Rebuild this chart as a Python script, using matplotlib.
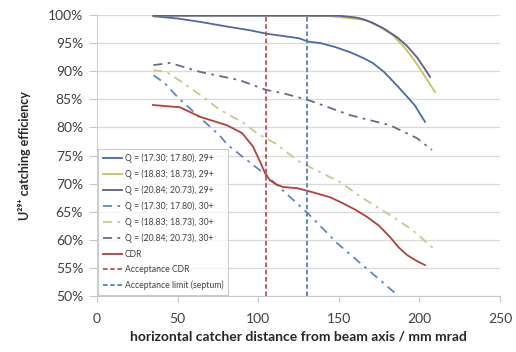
import matplotlib
matplotlib.use("Agg")
import matplotlib.pyplot as plt
from matplotlib.ticker import FuncFormatter, MultipleLocator

plt.rcParams['font.family'] = ['Lato', 'DejaVu Sans']

# Catching efficiency (%) versus horizontal catcher distance (mm mrad)
x_q1_29 = [35, 50, 64, 80, 95, 105, 115, 125, 131, 139, 148, 157, 165, 171, 178, 186, 192, 197, 203.5]
y_q1_29 = [99.8, 99.4, 98.8, 98.0, 97.3, 96.7, 96.3, 95.9, 95.3, 95.0, 94.3, 93.4, 92.4, 91.5, 89.9, 87.5, 85.6, 84.0, 81.0]

x_q2_29 = [35, 80, 130, 145, 155, 162, 167.5, 175, 183.6, 190, 196, 203, 209.7]
y_q2_29 = [99.9, 99.9, 99.9, 99.8, 99.5, 99.3, 99.0, 98.0, 96.4, 94.5, 92.3, 89.3, 86.3]

x_q3_29 = [35, 80, 130, 150, 160, 165, 171.2, 178, 186, 192, 198.5, 203, 206.6]
y_q3_29 = [99.9, 99.9, 99.9, 99.9, 99.6, 99.3, 98.6, 97.6, 96.1, 94.6, 92.5, 90.6, 89.0]

x_q1_30 = [35, 42, 50, 76, 81, 105, 130.5, 149, 185]
y_q1_30 = [89.3, 87.9, 85.4, 78.6, 76.9, 71.5, 64.8, 59.4, 50.5]

x_q2_30 = [35, 43, 51, 59, 67, 74, 82, 90, 99, 110.4, 126, 150.7, 165, 181.8, 196, 209.7]
y_q2_30 = [90.2, 89.9, 88.4, 86.8, 85.2, 83.6, 82.2, 81.0, 79.0, 77.2, 73.8, 70.3, 67.4, 64.4, 61.7, 58.2]

x_q3_30 = [35, 45.3, 63.9, 88.7, 104.8, 115.4, 130.9, 157, 181.8, 198.5, 207.8]
y_q3_30 = [91.1, 91.5, 89.9, 88.4, 86.7, 86.1, 84.9, 82.2, 80.4, 78.1, 76.0]

x_cdr = [34.7, 51.5, 63.9, 80.6, 90, 96.8, 101, 104.2, 107.3, 111, 115.4, 124.1, 130.9, 144.5, 152.6, 160, 167.5, 175, 181.8, 187, 192.3, 198, 203.5]
y_cdr = [84.0, 83.6, 81.9, 80.4, 79.0, 76.6, 74.0, 71.9, 70.6, 69.9, 69.4, 69.2, 68.7, 67.6, 66.5, 65.4, 64.1, 62.5, 60.5, 58.7, 57.3, 56.3, 55.5]

acceptance_cdr = 105
acceptance_septum = 130

labels = [
    "Q = (17.30; 17.80), 29+",
    "Q = (18.83; 18.73), 29+",
    "Q = (20.84; 20.73), 29+",
    "Q = (17.30; 17.80), 30+",
    "Q = (18.83; 18.73), 30+",
    "Q = (20.84; 20.73), 30+",
    "CDR",
    "Acceptance CDR",
    "Acceptance limit (septum)",
]

fig = plt.figure(figsize=(5.16, 3.52), dpi=100)
ax = fig.add_axes([0.188, 0.159, 0.781, 0.798])

dashdot = (0, (5, 3, 1.5, 3))
lw = 1.3
ax.plot(x_q1_29, y_q1_29, color="#4a6aa8", lw=lw, label=labels[0])
ax.plot(x_q2_29, y_q2_29, color="#c6c25a", lw=lw, label=labels[1])
ax.plot(x_q3_29, y_q3_29, color="#5d5b95", lw=lw, label=labels[2])
ax.plot(x_q1_30, y_q1_30, color="#6486bb", lw=lw, ls=dashdot, label=labels[3])
ax.plot(x_q2_30, y_q2_30, color="#c8c889", lw=lw, ls=dashdot, label=labels[4])
ax.plot(x_q3_30, y_q3_30, color="#6a6a88", lw=lw, ls=dashdot, label=labels[5])
ax.plot(x_cdr, y_cdr, color="#b2403e", lw=lw, label=labels[6])
ax.axvline(acceptance_cdr, color="#c0504d", lw=1.3, ls=(0, (2.5, 1.5)), label=labels[7])
ax.axvline(acceptance_septum, color="#4f7fbd", lw=1.3, ls=(0, (2.5, 1.5)), label=labels[8])

ax.set_xlim(0, 250)
ax.set_ylim(50, 100)
ax.xaxis.set_major_locator(MultipleLocator(50))
ax.yaxis.set_major_locator(MultipleLocator(5))
ax.yaxis.set_major_formatter(FuncFormatter(lambda v, p: f"{v:.0f}%"))
ax.grid(axis="y", color="#d9d9d9", lw=0.9)
ax.set_axisbelow(True)
for side in ("top", "right"):
    ax.spines[side].set_visible(False)
ax.spines["left"].set_color("#d0d0d0")
ax.spines["bottom"].set_color("#c8c8c8")
ax.tick_params(axis="both", colors="#c8c8c8", labelcolor="#404040", labelsize=10)
ax.tick_params(axis="y", length=6, pad=4)
ax.tick_params(axis="x", length=4, pad=8)

ax.set_xlabel("horizontal catcher distance from beam axis / mm mrad",
              fontsize=10, fontweight="bold", color="#262626", labelpad=4)
ax.set_ylabel("U²⁹⁺ catching efficiency", fontsize=9, fontweight="bold",
              color="#262626", labelpad=12)

leg = ax.legend(loc="lower left", bbox_to_anchor=(0.0, 0.0), fontsize=6.2,
                frameon=True, fancybox=False, handlelength=2.2, handletextpad=0.3,
                labelspacing=0.75, borderpad=0.55, borderaxespad=0.15)
leg.get_frame().set_edgecolor("#bfbfbf")
leg.get_frame().set_linewidth(0.8)
for t in leg.get_texts():
    t.set_color("#404040")

fig.savefig("out.png", dpi=100)
